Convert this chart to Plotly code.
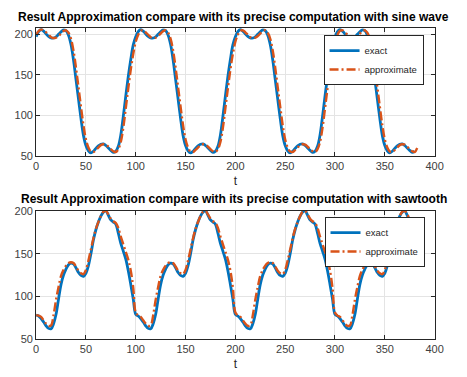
import numpy as np
import plotly.graph_objects as go

t_exact_sine = np.arange(0, 380.01, 2.5)
t_approx_sine = np.arange(0, 382.51, 2.5)
t_saw = np.arange(0, 380.01, 2.5)

exact_sine = [
    197, 203.5, 206, 204, 200.5, 197.5, 195.5, 195.5, 197, 200, 203, 205.5, 204.5, 199, 187.5, 168.5, 144.5, 120.5, 96.5, 75.5,
    63, 56.5, 54, 56, 59.5, 62.5, 64.5, 65, 63, 60, 57, 54.5, 56, 62, 76, 99, 124, 148, 169, 187,
    197, 203.5, 206, 204, 200.5, 197.5, 195.5, 195.5, 197, 200, 203, 205.5, 204.5, 199, 187.5, 168.5, 144.5, 120.5, 96.5, 75.5,
    63, 56.5, 54, 56, 59.5, 62.5, 64.5, 65, 63, 60, 57, 54.5, 56, 62, 76, 99, 124, 148, 169, 187,
    197, 203.5, 206, 204, 200.5, 197.5, 195.5, 195.5, 197, 200, 203, 205.5, 204.5, 199, 187.5, 168.5, 144.5, 120.5, 96.5, 75.5,
    63, 56.5, 54, 56, 59.5, 62.5, 64.5, 65, 63, 60, 57, 54.5, 56, 62, 76, 99, 124, 148, 169, 187,
    197, 203.5, 206, 204, 200.5, 197.5, 195.5, 195.5, 197, 200, 203, 205.5, 204.5, 199, 187.5, 168.5, 144.5, 120.5, 96.5, 75.5,
    63, 56.5, 54, 56, 59.5, 62.5, 64.5, 65, 63, 60, 57, 54.5, 56,
]

approx_sine = [
    200, 204, 206, 205, 202.5, 199.5, 196.5, 195.5, 196, 198, 201, 204, 205, 202, 194.5, 180, 159, 135, 111, 88,
    70.5, 60.5, 55.5, 55, 57.5, 60.5, 63.5, 64.5, 64, 61.5, 58.5, 56, 55, 58.5, 67.5, 85, 109, 133.5, 156.5, 176,
    191, 199.5, 204.5, 205, 202.5, 199.5, 196.5, 195.5, 196, 198, 201, 204, 205, 202, 194.5, 180, 159, 135, 111, 88,
    70.5, 60.5, 55.5, 55, 57.5, 60.5, 63.5, 64.5, 64, 61.5, 58.5, 56, 55, 58.5, 67.5, 85, 109, 133.5, 156.5, 176,
    191, 199.5, 204.5, 205, 202.5, 199.5, 196.5, 195.5, 196, 198, 201, 204, 205, 202, 194.5, 180, 159, 135, 111, 88,
    70.5, 60.5, 55.5, 55, 57.5, 60.5, 63.5, 64.5, 64, 61.5, 58.5, 56, 55, 58.5, 67.5, 85, 109, 133.5, 156.5, 176,
    191, 199.5, 204.5, 205, 202.5, 199.5, 196.5, 195.5, 196, 198, 201, 204, 205, 202, 194.5, 180, 159, 135, 111, 88,
    70.5, 60.5, 55.5, 55, 57.5, 60.5, 63.5, 64.5, 64, 61.5, 58.5, 56, 55, 60,
]

exact_saw = [
    78, 77, 74, 70, 65.5, 62.5, 62, 68, 79, 97, 114, 125, 132, 137, 139, 138, 133.5, 128, 124.5, 123.5,
    127, 136, 150, 166, 178, 187, 194, 198.5, 200, 195, 189.5, 187, 184.5, 174, 162, 153, 143.5, 130, 114, 97,
    79, 77, 74, 70, 65.5, 62.5, 62, 68, 79, 97, 114, 125, 132, 137, 139, 138, 133.5, 128, 124.5, 123.5,
    127, 136, 150, 166, 178, 187, 194, 198.5, 200, 195, 189.5, 187, 184.5, 174, 162, 153, 143.5, 130, 114, 97,
    79, 77, 74, 70, 65.5, 62.5, 62, 68, 79, 97, 114, 125, 132, 137, 139, 138, 133.5, 128, 124.5, 123.5,
    127, 136, 150, 166, 178, 187, 194, 198.5, 200, 195, 189.5, 187, 184.5, 174, 162, 153, 143.5, 130, 114, 97,
    79, 77, 74, 70, 65.5, 62.5, 62, 68, 79, 97, 114, 125, 132, 137, 139, 138, 133.5, 128, 124.5, 123.5,
    127, 136, 150, 166, 178, 187, 194, 198.5, 200, 195, 189.5, 187, 184.5,
]

approx_saw = [
    78, 77.5, 76, 72, 68, 65.5, 66, 78, 96, 111, 124, 131, 136, 139, 140, 139, 135, 130, 127, 126,
    131, 142, 155, 168, 179, 187, 194, 199, 200, 196, 191, 188, 186, 180, 170, 161, 152, 143, 130, 110,
    81, 77.5, 76, 72, 68, 65.5, 66, 78, 96, 111, 124, 131, 136, 139, 140, 139, 135, 130, 127, 126,
    131, 142, 155, 168, 179, 187, 194, 199, 200, 196, 191, 188, 186, 180, 170, 161, 152, 143, 130, 110,
    81, 77.5, 76, 72, 68, 65.5, 66, 78, 96, 111, 124, 131, 136, 139, 140, 139, 135, 130, 127, 126,
    131, 142, 155, 168, 179, 187, 194, 199, 200, 196, 191, 188, 186, 180, 170, 161, 152, 143, 130, 110,
    81, 77.5, 76, 72, 68, 65.5, 66, 78, 96, 111, 124, 131, 136, 139, 140, 139, 135, 130, 127, 126,
    131, 142, 155, 168, 179, 187, 194, 199, 200, 196, 191, 188, 186,
]

x_ticks = [0, 50, 100, 150, 200, 250, 300, 350, 400]
y_ticks = [50, 100, 150, 200]
titles = ["Result Approximation compare with its precise computation with sine wave",
          "Result Approximation compare with its precise computation with sawtooth"]
legend_names = ["exact", "approximate"]

BLUE = "#0072BD"
RED = "#D95319"
FONT = "Liberation Sans, Arial, sans-serif"
AX = "#262626"
DASH = "9px,3px,2px,3px"

fig = go.Figure()
fig.add_trace(go.Scatter(x=t_exact_sine, y=exact_sine, mode="lines", name=legend_names[0],
                         line=dict(color=BLUE, width=2.8, shape="spline"), xaxis="x", yaxis="y", legend="legend"))
fig.add_trace(go.Scatter(x=t_approx_sine, y=approx_sine, mode="lines", name=legend_names[1],
                         line=dict(color=RED, width=2.4, dash=DASH, shape="spline"),
                         xaxis="x", yaxis="y", legend="legend"))
fig.add_trace(go.Scatter(x=t_saw, y=exact_saw, mode="lines", name=legend_names[0],
                         line=dict(color=BLUE, width=2.8, shape="spline"), xaxis="x2", yaxis="y2", legend="legend2"))
fig.add_trace(go.Scatter(x=t_saw, y=approx_saw, mode="lines", name=legend_names[1],
                         line=dict(color=RED, width=2.4, dash=DASH, shape="spline"),
                         xaxis="x2", yaxis="y2", legend="legend2"))

W, H = 467, 377
xdom = [34 / W, 443 / W]

def xax(anchor):
    return dict(domain=xdom, range=[0, 400], tickvals=x_ticks, anchor=anchor,
                showgrid=True, gridcolor="#e4e4e4", gridwidth=1, zeroline=False,
                showline=True, linecolor=AX, linewidth=1, mirror="ticks",
                ticks="inside", ticklen=4, tickcolor=AX,
                tickfont=dict(family=FONT, size=11, color="#404040"),
                title=dict(text="t", font=dict(family=FONT, size=12, color=AX), standoff=5))

def yax(anchor, dom, rng):
    return dict(domain=dom, range=rng, tickvals=y_ticks, anchor=anchor,
                showgrid=True, gridcolor="#e4e4e4", gridwidth=1, zeroline=False,
                showline=True, linecolor=AX, linewidth=1, mirror="ticks",
                ticks="inside", ticklen=4, tickcolor=AX,
                tickfont=dict(family=FONT, size=11, color="#404040"))

leg_common = dict(bgcolor="white", bordercolor=AX, borderwidth=1,
                  font=dict(family=FONT, size=9.5, color=AX), xanchor="left", yanchor="top",
                  tracegroupgap=0, itemwidth=30)

fig.update_layout(
    width=W, height=H, autosize=False,
    margin=dict(l=0, r=0, t=0, b=0),
    paper_bgcolor="white", plot_bgcolor="white",
    xaxis=xax("y"),
    yaxis=yax("x", [1 - 155 / H, 1 - 23 / H], [50, 207.5]),
    xaxis2=xax("y2"),
    yaxis2=yax("x2", [1 - 344 / H, 1 - 211.7 / H], [50, 200]),
    legend=dict(x=329 / W, y=1 - 30 / H, **leg_common),
    legend2=dict(x=330 / W, y=1 - 218 / H, **leg_common),
    annotations=[
        dict(text="<b>" + titles[0] + "</b>", x=237 / W, y=1 - 11.5 / H, xref="paper", yref="paper",
             xanchor="center", yanchor="middle", showarrow=False,
             font=dict(family=FONT, size=12, color="#000000")),
        dict(text="<b>" + titles[1] + "</b>", x=237 / W, y=1 - 199.5 / H, xref="paper", yref="paper",
             xanchor="center", yanchor="middle", showarrow=False,
             font=dict(family=FONT, size=12, color="#000000")),
    ],
)

fig.write_html("out.html")
